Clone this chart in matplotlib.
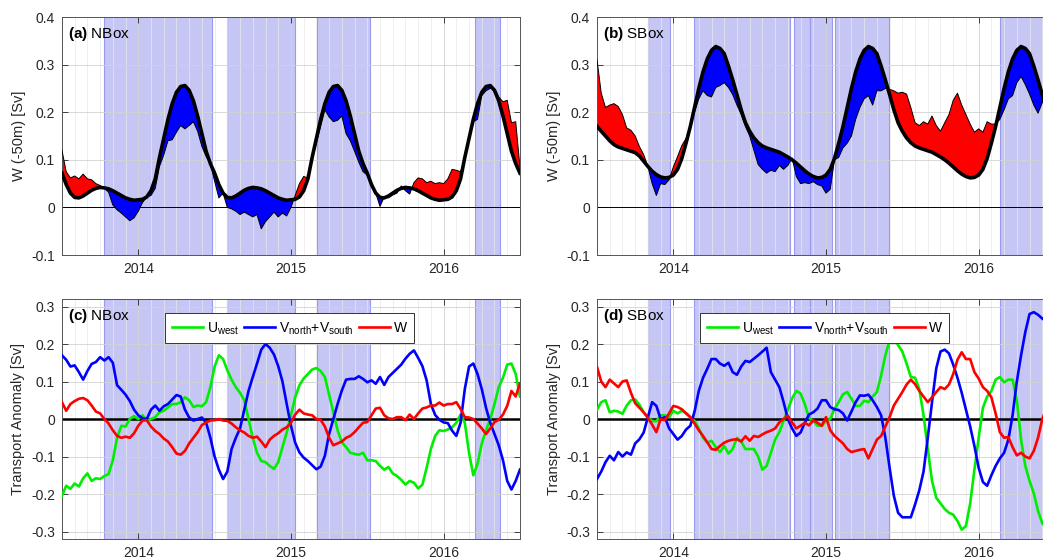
import numpy as np
import matplotlib
matplotlib.use("Agg")
import matplotlib.pyplot as plt
from matplotlib.ticker import MultipleLocator, FixedLocator, FuncFormatter

plt.rcParams['font.family'] = ['Liberation Sans', 'DejaVu Sans']
plt.rcParams['mathtext.fontset'] = 'custom'
plt.rcParams['mathtext.rm'] = 'Liberation Sans'
plt.rcParams['mathtext.bf'] = 'Liberation Sans:bold'
plt.rcParams['mathtext.it'] = 'Liberation Sans:italic'
plt.rcParams['axes.unicode_minus'] = False

# time axis in decimal years, ~10 day steps, Jul 2013 - Jul 2016
t = 2013.5 + np.arange(109) / 36.0

# (a) NBox: vertical transport at -50 m, climatology and actual [Sv]
nbox_clim = [
    0.072, 0.048, 0.030, 0.021, 0.020, 0.024, 0.030, 0.036, 0.040, 0.042,
    0.041, 0.039, 0.035, 0.030, 0.025, 0.020, 0.017, 0.015,
    0.016, 0.017, 0.022, 0.035, 0.060, 0.105, 0.145, 0.185, 0.218, 0.242,
    0.254, 0.256, 0.246, 0.224, 0.192, 0.155, 0.118, 0.092, 0.072, 0.048,
    0.030, 0.021, 0.020, 0.024, 0.030, 0.036, 0.040, 0.042, 0.041, 0.039,
    0.035, 0.030, 0.025, 0.020, 0.017, 0.015,
    0.016, 0.017, 0.022, 0.035, 0.060, 0.105, 0.145, 0.185, 0.218, 0.242,
    0.254, 0.256, 0.246, 0.224, 0.192, 0.155, 0.118, 0.092, 0.072, 0.048,
    0.030, 0.021, 0.020, 0.024, 0.030, 0.036, 0.040, 0.042, 0.041, 0.039,
    0.035, 0.030, 0.025, 0.020, 0.017, 0.015,
    0.016, 0.017, 0.022, 0.035, 0.060, 0.105, 0.145, 0.185, 0.218, 0.242,
    0.254, 0.256, 0.246, 0.224, 0.192, 0.155, 0.118, 0.092, 0.072,
]
nbox_w = [
    0.120, 0.075, 0.062, 0.066, 0.060, 0.070, 0.060, 0.058, 0.050, 0.046,
    0.040, 0.032, 0.005, -0.005, -0.012, -0.020, -0.028, -0.022, -0.008, 0.010,
    0.022, 0.025, 0.040, 0.086, 0.110, 0.140, 0.142, 0.158, 0.172, 0.165,
    0.172, 0.180, 0.160, 0.128, 0.107, 0.092, 0.055, 0.020, 0.030, 0.000,
    -0.003, -0.008, -0.015, -0.010, -0.015, -0.020, -0.015, -0.045, -0.030, -0.020,
    -0.010, -0.020, -0.012, -0.018, 0.000, 0.025, 0.050, 0.065, 0.062, 0.100,
    0.135, 0.170, 0.205, 0.190, 0.180, 0.183, 0.192, 0.155, 0.140, 0.118,
    0.095, 0.075, 0.068, 0.050, 0.030, 0.002, 0.022, 0.020, 0.026, 0.030,
    0.045, 0.035, 0.028, 0.052, 0.062, 0.060, 0.052, 0.055, 0.050, 0.052,
    0.050, 0.060, 0.080, 0.078, 0.075, 0.100, 0.140, 0.180, 0.185, 0.235,
    0.245, 0.250, 0.250, 0.232, 0.222, 0.225, 0.178, 0.180, 0.085,
]

# (b) SBox
sbox_clim = [
    0.170, 0.160, 0.150, 0.140, 0.132, 0.127, 0.124, 0.121, 0.118, 0.115,
    0.108, 0.097, 0.086, 0.076, 0.069, 0.064, 0.062, 0.063,
    0.068, 0.080, 0.103, 0.135, 0.170, 0.210, 0.250, 0.285, 0.312, 0.330,
    0.338, 0.334, 0.323, 0.297, 0.268, 0.237, 0.205, 0.178, 0.160, 0.146,
    0.136, 0.129, 0.125, 0.122, 0.119, 0.116, 0.111, 0.106, 0.100, 0.093,
    0.085, 0.077, 0.070, 0.065, 0.062, 0.063,
    0.068, 0.080, 0.103, 0.135, 0.170, 0.210, 0.250, 0.285, 0.312, 0.330,
    0.338, 0.334, 0.323, 0.297, 0.268, 0.237, 0.205, 0.178, 0.160, 0.146,
    0.136, 0.129, 0.125, 0.122, 0.119, 0.116, 0.111, 0.106, 0.100, 0.093,
    0.085, 0.077, 0.070, 0.065, 0.062, 0.063,
    0.068, 0.080, 0.103, 0.135, 0.170, 0.210, 0.250, 0.285, 0.312, 0.330,
    0.338, 0.334, 0.323, 0.297, 0.268, 0.237, 0.205, 0.178, 0.160,
]
sbox_w = [
    0.310, 0.240, 0.210, 0.215, 0.218, 0.212, 0.195, 0.167, 0.162, 0.150,
    0.128, 0.111, 0.086, 0.050, 0.025, 0.050, 0.048, 0.058, 0.085, 0.107,
    0.130, 0.145, 0.170, 0.200, 0.228, 0.245, 0.235, 0.232, 0.252, 0.256,
    0.262, 0.252, 0.237, 0.215, 0.195, 0.170, 0.150, 0.120, 0.090, 0.080,
    0.072, 0.078, 0.075, 0.088, 0.080, 0.088, 0.104, 0.065, 0.050, 0.052,
    0.050, 0.054, 0.048, 0.045, 0.030, 0.038, 0.100, 0.105, 0.125, 0.135,
    0.150, 0.185, 0.210, 0.228, 0.235, 0.215, 0.245, 0.245, 0.250, 0.248,
    0.245, 0.240, 0.242, 0.238, 0.210, 0.178, 0.172, 0.180, 0.175, 0.192,
    0.172, 0.160, 0.178, 0.195, 0.225, 0.240, 0.215, 0.195, 0.175, 0.158,
    0.165, 0.158, 0.180, 0.175, 0.175, 0.185, 0.205, 0.228, 0.235, 0.262,
    0.275, 0.258, 0.238, 0.215, 0.198, 0.220, 0.225, 0.190, 0.175,
]

# (c) NBox transport anomalies [Sv]
nbox_u = [
    -0.205, -0.178, -0.186, -0.172, -0.180, -0.158, -0.145, -0.165, -0.158, -0.160,
    -0.152, -0.147, -0.110, -0.050, -0.018, -0.020, 0.000, 0.008, 0.000, 0.010,
    -0.005, 0.000, 0.005, 0.018, 0.022, 0.031, 0.040, 0.040, 0.045, 0.058,
    0.050, 0.032, 0.036, 0.034, 0.045, 0.085, 0.140, 0.170, 0.160, 0.130,
    0.105, 0.085, 0.070, 0.050, 0.000, -0.050, -0.090, -0.112, -0.115, -0.125,
    -0.133, -0.115, -0.075, -0.036, 0.010, 0.058, 0.090, 0.108, 0.120, 0.132,
    0.136, 0.128, 0.112, 0.065, 0.018, -0.030, -0.062, -0.075, -0.090, -0.093,
    -0.095, -0.090, -0.110, -0.110, -0.112, -0.125, -0.135, -0.128, -0.145, -0.152,
    -0.162, -0.175, -0.165, -0.170, -0.185, -0.175, -0.130, -0.080, -0.045, -0.030,
    -0.032, -0.028, -0.022, -0.010, 0.012, -0.010, -0.090, -0.150, -0.120, -0.065,
    -0.030, 0.000, 0.040, 0.085, 0.110, 0.145, 0.148, 0.120, 0.060,
]
nbox_v = [
    0.170, 0.158, 0.140, 0.143, 0.125, 0.105, 0.128, 0.147, 0.152, 0.165,
    0.156, 0.165, 0.150, 0.090, 0.078, 0.065, 0.048, 0.025, 0.010, 0.002,
    0.000, 0.025, 0.036, 0.022, 0.034, 0.040, 0.052, 0.064, 0.060, 0.025,
    0.004, -0.004, 0.000, 0.004, -0.010, -0.050, -0.100, -0.135, -0.160, -0.140,
    -0.080, -0.050, -0.025, 0.025, 0.075, 0.112, 0.148, 0.185, 0.200, 0.190,
    0.172, 0.141, 0.100, 0.040, -0.018, -0.063, -0.089, -0.103, -0.112, -0.123,
    -0.134, -0.127, -0.098, -0.040, 0.000, 0.040, 0.076, 0.105, 0.107, 0.107,
    0.114, 0.107, 0.098, 0.103, 0.094, 0.112, 0.091, 0.112, 0.123, 0.134,
    0.145, 0.161, 0.174, 0.183, 0.163, 0.141, 0.103, 0.040, 0.011, -0.002,
    -0.009, -0.011, -0.031, -0.045, -0.010, 0.080, 0.140, 0.148, 0.120, 0.080,
    0.030, -0.010, -0.040, -0.070, -0.110, -0.165, -0.188, -0.165, -0.135,
]
nbox_wa = [
    0.045, 0.022, 0.040, 0.048, 0.054, 0.056, 0.050, 0.036, 0.020, 0.015,
    0.000, -0.012, -0.030, -0.045, -0.050, -0.047, -0.050, -0.038, -0.018, -0.004,
    -0.003, -0.020, -0.032, -0.040, -0.052, -0.060, -0.075, -0.092, -0.095, -0.085,
    -0.065, -0.050, -0.035, -0.016, -0.009, -0.004, -0.003, 0.000, -0.004, -0.005,
    -0.012, -0.022, -0.030, -0.036, -0.045, -0.050, -0.047, -0.060, -0.075, -0.055,
    -0.045, -0.038, -0.028, -0.022, -0.010, 0.012, 0.025, 0.015, 0.012, 0.010,
    0.000, -0.002, -0.020, -0.050, -0.070, -0.065, -0.060, -0.050, -0.045, -0.035,
    -0.022, -0.010, -0.008, 0.010, 0.028, 0.030, 0.010, 0.002, 0.000, 0.005,
    0.005, -0.003, 0.012, 0.000, 0.015, 0.028, 0.031, 0.036, 0.036, 0.044,
    0.036, 0.040, 0.040, 0.045, 0.027, 0.005, 0.004, 0.000, -0.012, -0.025,
    -0.040, -0.025, -0.008, -0.002, 0.012, 0.035, 0.075, 0.060, 0.095,
]

# (d) SBox transport anomalies [Sv]
sbox_u = [
    0.025, 0.045, 0.050, 0.018, 0.022, 0.020, 0.014, 0.036, 0.050, 0.052,
    0.038, 0.018, 0.005, -0.005, -0.006, 0.010, 0.010, 0.005, 0.022, 0.015,
    0.022, 0.016, 0.005, -0.005, -0.025, -0.050, -0.063, -0.058, -0.075, -0.088,
    -0.072, -0.092, -0.080, -0.050, -0.060, -0.080, -0.080, -0.080, -0.100, -0.135,
    -0.125, -0.090, -0.055, -0.035, -0.004, 0.025, 0.055, 0.075, 0.068, 0.040,
    0.003, -0.005, -0.018, -0.018, -0.005, 0.000, 0.027, 0.045, 0.066, 0.072,
    0.054, 0.035, 0.035, 0.049, 0.045, 0.060, 0.072, 0.116, 0.170, 0.210,
    0.215, 0.197, 0.180, 0.148, 0.112, 0.110, 0.080, 0.010, -0.080, -0.165,
    -0.210, -0.225, -0.240, -0.250, -0.255, -0.272, -0.295, -0.285, -0.225, -0.135,
    -0.050, 0.030, 0.060, 0.075, 0.105, 0.112, 0.098, 0.105, 0.105, 0.050,
    -0.055, -0.125, -0.165, -0.198, -0.245, -0.278, -0.290, -0.300, -0.300,
]
sbox_v = [
    -0.160, -0.140, -0.115, -0.098, -0.110, -0.088, -0.100, -0.089, -0.095, -0.065,
    -0.054, -0.036, 0.005, 0.045, 0.035, 0.000, 0.005, -0.025, -0.040, -0.055,
    -0.045, -0.028, -0.018, 0.020, 0.075, 0.110, 0.134, 0.160, 0.160, 0.148,
    0.142, 0.150, 0.125, 0.118, 0.140, 0.155, 0.152, 0.161, 0.170, 0.180,
    0.190, 0.125, 0.105, 0.085, 0.045, 0.000, -0.025, -0.045, -0.036, -0.010,
    0.012, 0.018, 0.028, 0.050, 0.050, 0.032, 0.026, 0.024, 0.015, -0.004,
    0.020, 0.045, 0.063, 0.062, 0.065, 0.050, 0.032, 0.010, -0.050, -0.130,
    -0.205, -0.250, -0.262, -0.262, -0.262, -0.228, -0.190, -0.140, -0.050, 0.045,
    0.135, 0.180, 0.185, 0.175, 0.145, 0.110, 0.070, 0.025, -0.020, -0.072,
    -0.130, -0.168, -0.178, -0.150, -0.125, -0.105, -0.090, -0.055, 0.010, 0.100,
    0.170, 0.232, 0.280, 0.285, 0.278, 0.268, 0.260, 0.250, 0.240,
]
sbox_wa = [
    0.139, 0.100, 0.085, 0.105, 0.095, 0.085, 0.100, 0.103, 0.070, 0.042,
    0.030, 0.018, 0.003, -0.015, -0.035, 0.000, -0.003, 0.015, 0.035, 0.032,
    0.026, 0.015, 0.005, -0.012, -0.030, -0.045, -0.062, -0.080, -0.082, -0.072,
    -0.063, -0.058, -0.055, -0.054, -0.060, -0.046, -0.058, -0.045, -0.048, -0.041,
    -0.035, -0.031, -0.025, -0.009, 0.000, 0.009, -0.009, -0.025, -0.018, -0.010,
    -0.017, -0.003, -0.010, -0.018, 0.005, -0.030, -0.045, -0.055, -0.065, -0.080,
    -0.088, -0.085, -0.082, -0.080, -0.105, -0.080, -0.055, -0.045, -0.020, 0.005,
    0.036, 0.054, 0.072, 0.092, 0.105, 0.093, 0.075, 0.060, 0.045, 0.058,
    0.072, 0.085, 0.080, 0.092, 0.120, 0.158, 0.178, 0.160, 0.160, 0.125,
    0.108, 0.085, 0.075, 0.058, 0.015, -0.035, -0.050, -0.048, -0.075, -0.097,
    -0.090, -0.100, -0.105, -0.085, -0.050, 0.000, 0.030, 0.050, 0.060,
]

# shaded periods (decimal years)
nbox_spans = [(2013.776, 2014.483), (2014.584, 2015.027),
              (2015.172, 2015.518), (2016.208, 2016.370)]
sbox_spans = [(2013.832, 2013.975), (2014.133, 2014.764), (2014.790, 2014.893),
              (2014.893, 2015.041), (2015.056, 2015.415), (2016.141, 2016.600)]

years = [2014, 2015, 2016]


def fmt(v, pos):
    return '%g' % round(v, 2)


def style_axis(ax, ylim, ystep):
    ax.set_xlim(2013.5, 2016.5)
    ax.set_ylim(*ylim)
    ax.xaxis.set_major_locator(FixedLocator(years))
    ax.xaxis.set_major_formatter(FuncFormatter(lambda v, p: '%d' % v))
    ax.xaxis.set_minor_locator(MultipleLocator(1 / 12))
    ax.yaxis.set_major_locator(MultipleLocator(ystep))
    ax.yaxis.set_major_formatter(FuncFormatter(fmt))
    ax.tick_params(which='major', direction='in', top=True, right=True,
                   length=4, width=0.6, labelsize=10, colors='#262626', pad=5)
    ax.tick_params(which='minor', length=0)
    ax.set_axisbelow(True)
    ax.grid(which='major', color='#d2d2d2', lw=0.6)
    ax.grid(which='minor', axis='x', color='#e8e8e8', lw=0.5)
    for s in ax.spines.values():
        s.set_color('#555555')
        s.set_linewidth(0.7)


def shade(ax, spans):
    for a, b in spans:
        ax.axvspan(a, b, facecolor='#c6c6f4', edgecolor='#9a9aee',
                   lw=0.8, zorder=0.2)


def panel_label(ax, letter, name):
    ax.text(0.013, 0.965, r'$\mathbf{(%s)}$ %s' % (letter, name),
            transform=ax.transAxes, ha='left', va='top', fontsize=11, zorder=10)


def draw_w(ax, w, clim, spans, letter, name):
    w = np.array(w)
    clim = np.array(clim)
    shade(ax, spans)
    ax.axhline(0, color='k', lw=0.7, zorder=1.5)
    ax.fill_between(t, w, clim, where=w >= clim, interpolate=True,
                    color='#ff0000', lw=0, zorder=2)
    ax.fill_between(t, w, clim, where=w <= clim, interpolate=True,
                    color='#0000ff', lw=0, zorder=2)
    ax.plot(t, w, color='k', lw=0.7, zorder=3)
    ax.plot(t, clim, color='k', lw=2.6, zorder=4)
    style_axis(ax, (-0.1, 0.4), 0.1)
    ax.set_ylabel('W (-50m) [Sv]', fontsize=10.5, color='#262626')
    panel_label(ax, letter, name)


def draw_anom(ax, u, v, wa, spans, letter, name):
    shade(ax, spans)
    ax.axhline(0, color='k', lw=1.8, zorder=1.5)
    ax.plot(t, u, color='#00ee00', lw=1.9, zorder=3, label=r'U$_{\rm west}$')
    ax.plot(t, v, color='#0000ff', lw=1.9, zorder=3,
            label=r'V$_{\rm north}$+V$_{\rm south}$')
    ax.plot(t, wa, color='#ff0000', lw=1.9, zorder=3, label='W')
    style_axis(ax, (-0.32, 0.32), 0.1)
    ax.set_ylabel('Transport Anomaly [Sv]', fontsize=10.5, color='#262626')
    leg = ax.legend(loc='upper center', bbox_to_anchor=(0.497, 0.97), ncol=3,
                    fontsize=10, frameon=True, fancybox=False, framealpha=1,
                    edgecolor='#333333', handlelength=2.2, handletextpad=0.3,
                    columnspacing=0.4, borderpad=0.5)
    leg.get_frame().set_linewidth(0.7)
    leg.set_zorder(11)
    panel_label(ax, letter, name)


fig = plt.figure(figsize=(10.43, 5.58), dpi=100)
ax_a = fig.add_axes([0.0594, 0.543, 0.4391, 0.4265])
ax_b = fig.add_axes([0.5724, 0.543, 0.4391, 0.4265])
ax_c = fig.add_axes([0.0594, 0.034, 0.4391, 0.4301])
ax_d = fig.add_axes([0.5724, 0.034, 0.4391, 0.4301])

draw_w(ax_a, nbox_w, nbox_clim, nbox_spans, 'a', 'NBox')
draw_w(ax_b, sbox_w, sbox_clim, sbox_spans, 'b', 'SBox')
draw_anom(ax_c, nbox_u, nbox_v, nbox_wa, nbox_spans, 'c', 'NBox')
draw_anom(ax_d, sbox_u, sbox_v, sbox_wa, sbox_spans, 'd', 'SBox')

fig.savefig('out.png', dpi=100)
